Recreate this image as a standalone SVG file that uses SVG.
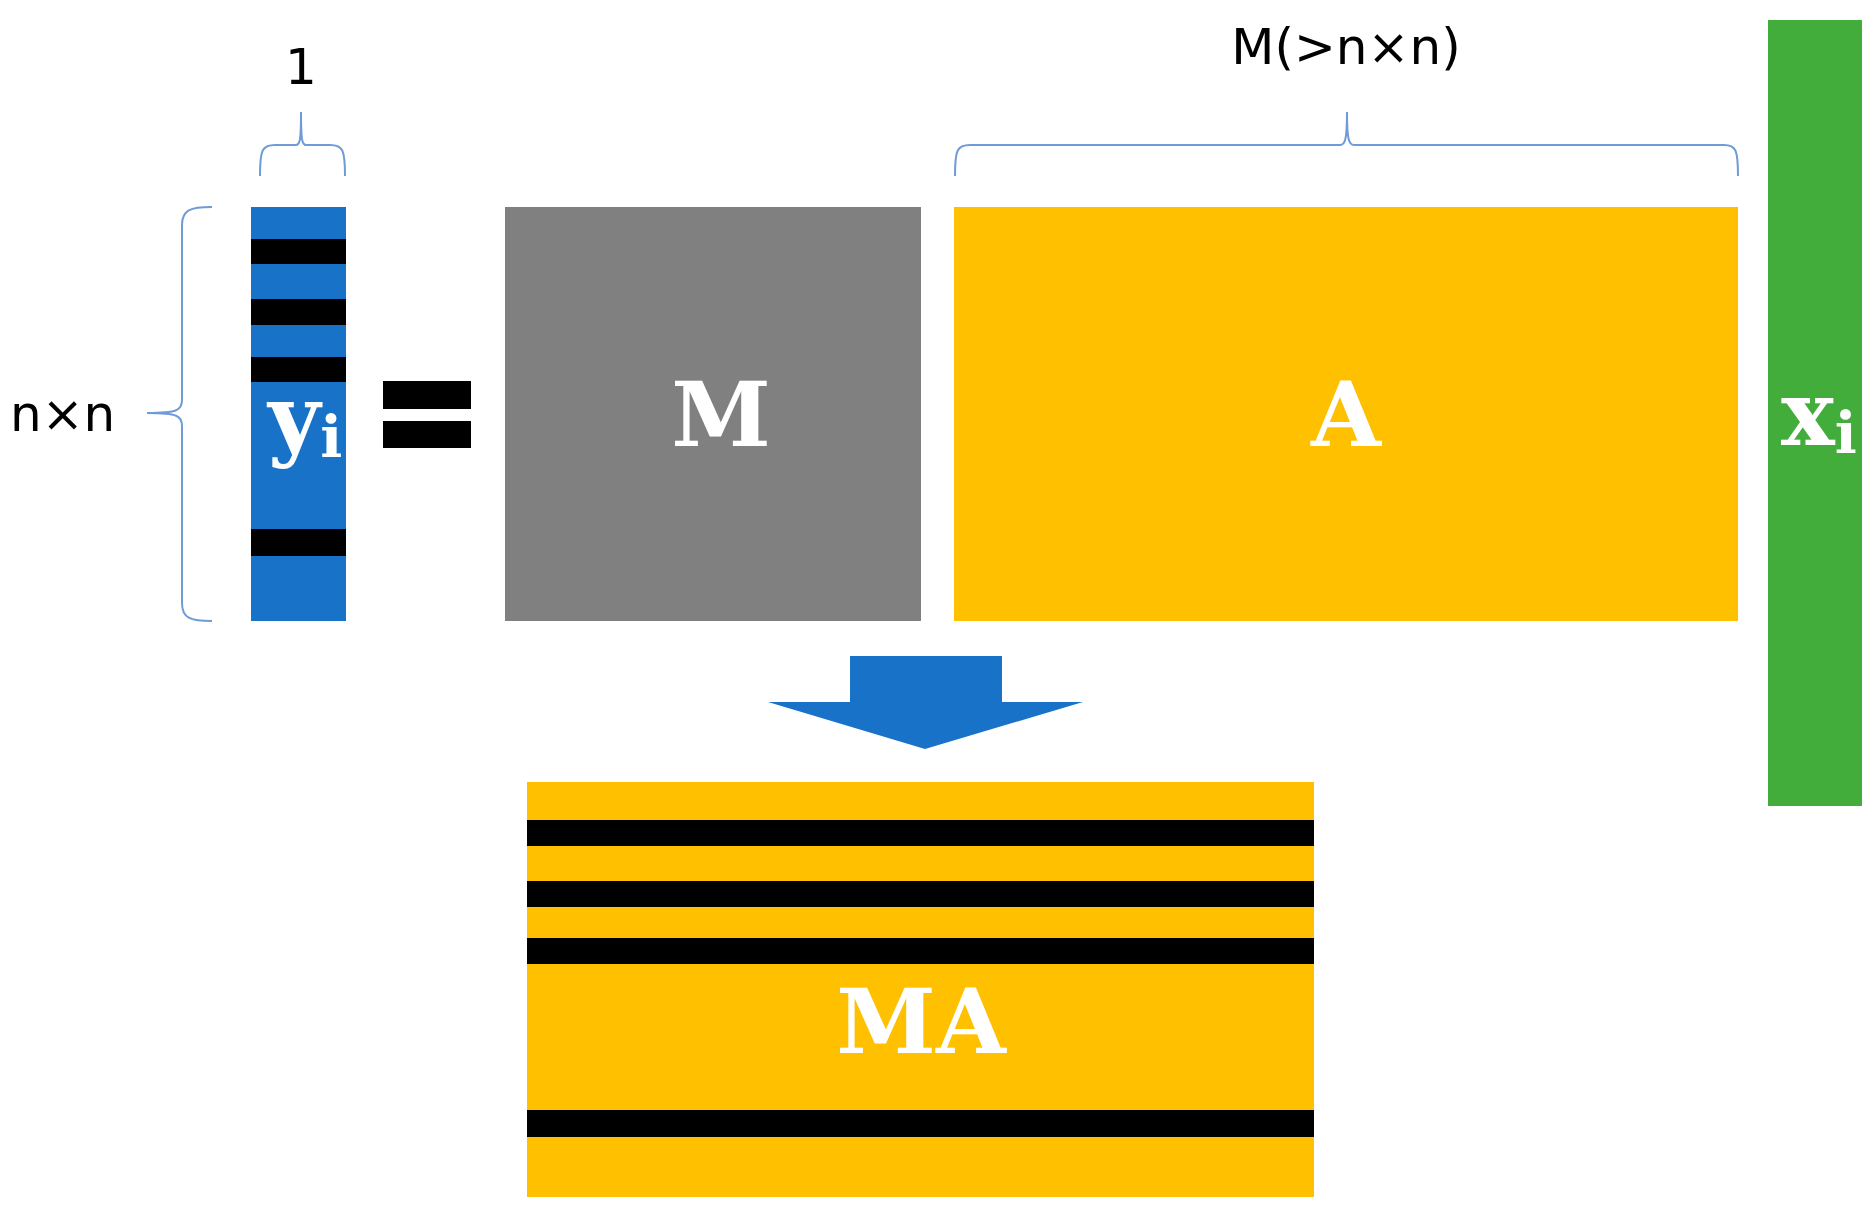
<svg xmlns="http://www.w3.org/2000/svg" width="1871" height="1216" viewBox="0 0 1871 1216">
<style>
.lbl{font-family:"DejaVu Serif","Liberation Serif",serif;font-weight:bold;fill:#fff}
.dim{font-family:"DejaVu Sans","Liberation Sans",sans-serif;fill:#000;font-size:50px}
.brace{fill:none;stroke:#6f9bd8;stroke-width:2}
.stripe{fill:#000}
</style>
<rect width="1871" height="1216" fill="#fff"/>
<g id="braces">
<path class="brace" d="M260,176 C260,150 262,145 275,145 L296,145 C300,145 301,140 301,112 M301,112 C301,140 302,145 306,145 L330,145 C343,145 345,150 345,176"/>
<path class="brace" d="M955,176 C955,150 957,145 970,145 L1340,145 C1345,145 1347,140 1347,112 M1347,112 C1347,140 1349,145 1354,145 L1724,145 C1736,145 1738,150 1738,176"/>
<path class="brace" d="M212,207 C190,207 182,210 182,225 L182,400 C182,410 178,413 147,413 M147,413 C178,413 182,416 182,426 L182,603 C182,618 190,621 212,621"/>
<text class="dim" x="301" y="84" text-anchor="middle">1</text>
<text class="dim" x="1346" y="64" text-anchor="middle">M(&gt;n×n)</text>
<text class="dim" x="10" y="431">n×n</text>
</g>
<g id="y">
<rect x="251" y="207" width="95" height="414" fill="#1872c8"/>
<rect class="stripe" x="251" y="239" width="95" height="25"/>
<rect class="stripe" x="251" y="299" width="95" height="26"/>
<rect class="stripe" x="251" y="357" width="95" height="25"/>
<rect class="stripe" x="251" y="529" width="95" height="27"/>
<text class="lbl" x="268" y="449" font-size="90">y<tspan font-size="58" dy="8">i</tspan></text>
</g>
<g id="equals">
<rect class="stripe" x="383" y="381" width="88" height="28"/>
<rect class="stripe" x="383" y="421" width="88" height="27"/>
</g>
<g id="M">
<rect x="505" y="207" width="416" height="414" fill="#808080"/>
<text class="lbl" x="721" y="446" font-size="90" text-anchor="middle">M</text>
</g>
<g id="A">
<rect x="954" y="207" width="784" height="414" fill="#ffc000"/>
<text class="lbl" x="1346" y="446" font-size="90" text-anchor="middle">A</text>
</g>
<g id="x">
<rect x="1768" y="20" width="94" height="786" fill="#43ad3b"/>
<text class="lbl" x="1781" y="445" font-size="90">x<tspan font-size="58" dy="8">i</tspan></text>
</g>
<g id="connectors">
<path d="M850,656 L1002,656 L1002,702 L1083,702 L925,749 L768,702 L850,702 Z" fill="#1872c8"/>
</g>
<g id="MA">
<rect x="527" y="782" width="787" height="415" fill="#ffc000"/>
<rect class="stripe" x="527" y="820" width="787" height="26"/>
<rect class="stripe" x="527" y="881" width="787" height="26"/>
<rect class="stripe" x="527" y="938" width="787" height="26"/>
<rect class="stripe" x="527" y="1110" width="787" height="27"/>
<text class="lbl" x="921" y="1053" font-size="90" text-anchor="middle">MA</text>
</g>
</svg>
